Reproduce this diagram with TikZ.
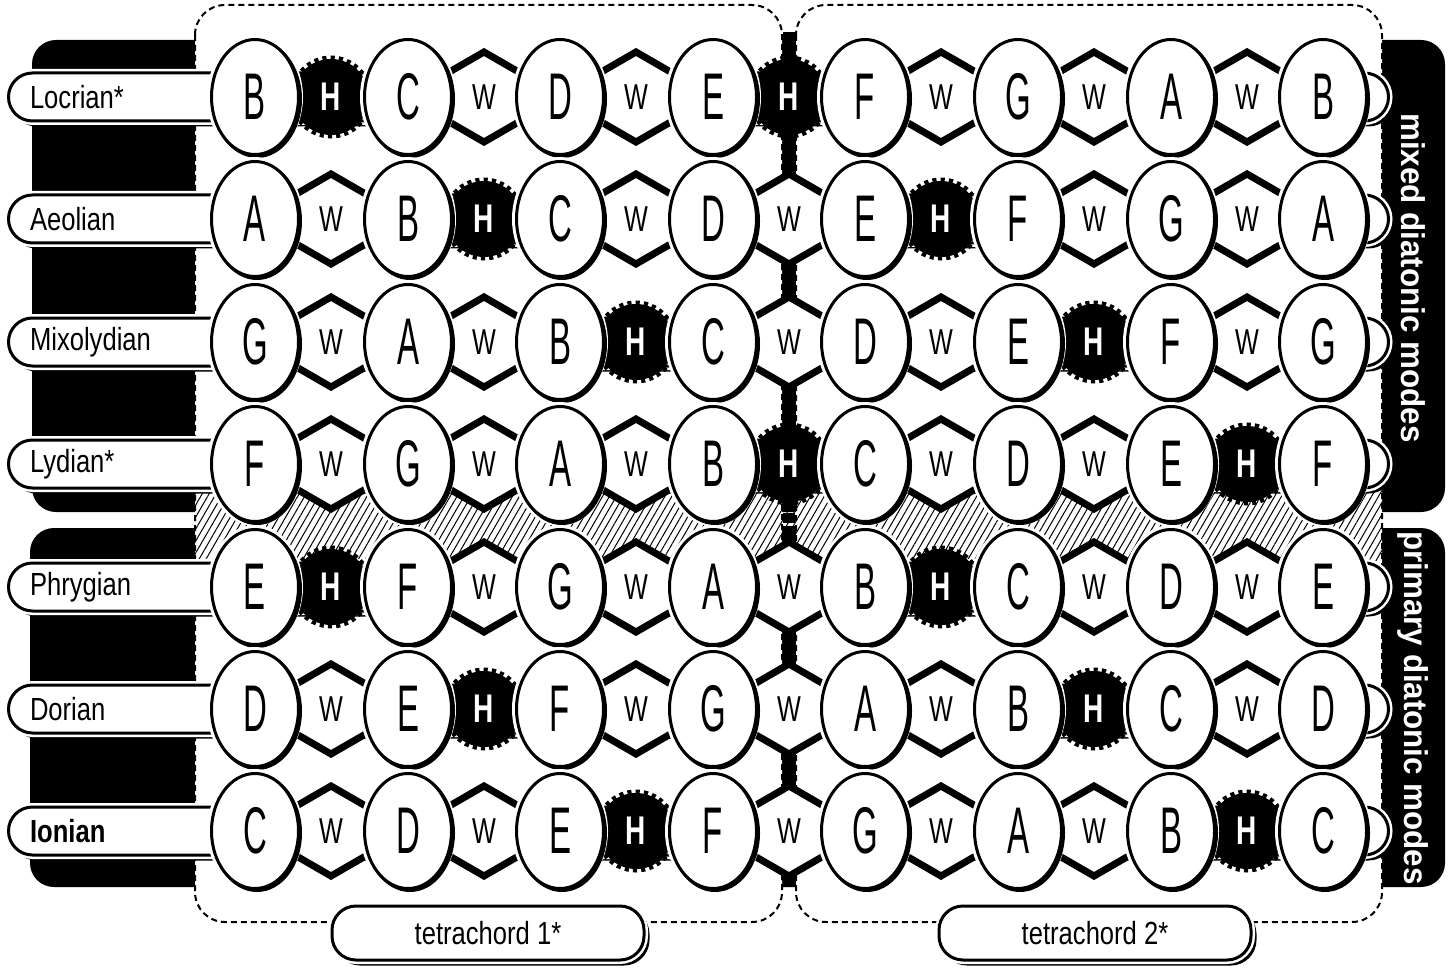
\documentclass[tikz,border=0pt]{standalone}
\usepackage{fontspec}
\setmainfont{Liberation Sans}
\newfontfamily\notefont[FakeStretch=0.5]{Liberation Sans}
\newfontfamily\stepfont[FakeStretch=0.7]{Liberation Sans}
\newfontfamily\labelfont[FakeStretch=0.8]{Liberation Sans}
\newfontfamily\sidefont[FakeStretch=0.95]{Liberation Sans}
\usetikzlibrary{shapes.geometric,patterns.meta}
\tikzset{
  block/.style={fill=black,rounded corners=24pt},
  chordbox/.style={draw,fill=white,line width=2pt,dash pattern=on 6pt off 4pt,rounded corners=30pt},
  hatch/.style={pattern={Lines[angle=60,distance=6pt,line width=1pt]}},
  spine/.style={draw,line width=12pt,dash pattern=on 10pt off 3pt},
  capsule/.style={draw,fill=white,line width=3pt,rectangle,rounded corners=24pt,
    font=\labelfont\fontsize{32}{32}\selectfont,
    preaction={draw=black,fill=black,line width=3pt,transform canvas={shift={(4pt,-4pt)}}},
    preaction={draw=white,line width=8pt}},
  mode/.style={capsule,anchor=west,minimum height=48pt,text width=1337pt,inner xsep=21.5pt,inner ysep=0pt,align=left},
  tetra/.style={capsule,minimum width=312pt,minimum height=54pt,inner sep=0pt},
  note/.style={ellipse,draw,fill=white,line width=3pt,minimum width=87pt,minimum height=115pt,inner sep=0pt,
    font=\notefont\fontsize{66}{66}\selectfont,
    preaction={draw=white,line width=9pt},
    preaction={draw=black,fill=black,line width=3pt,transform canvas={shift={(2pt,-2pt)}}}},
  whole/.style={regular polygon,regular polygon sides=6,shape border rotate=30,draw,fill=white,line width=7pt,
    minimum size=90pt,inner sep=0pt,font=\stepfont\fontsize{36}{36}\selectfont},
  half/.style={circle,draw,fill=black,line width=7pt,dash pattern=on 4pt off 4pt,minimum size=76pt,inner sep=0pt,
    text=white,font=\stepfont\bfseries\fontsize{40}{40}\selectfont},
  side/.style={text=white,rotate=-90,font=\sidefont\bfseries\fontsize{33}{33}\selectfont},
}
\begin{document}
\begin{tikzpicture}[x=1pt,y=-1pt]
  \useasboundingbox (0,0) rectangle (1450,976);

  % background
  \fill[block] (32,40) rectangle (1445,512);
  \fill[block] (30,528) rectangle (1445,887);
  \draw[chordbox] (195,5) rectangle (782,922);
  \draw[chordbox] (796,5) rectangle (1382,922);
  \fill[hatch] (195,490) rectangle (1382,560);
  \coordinate (spinetop) at (789,32);
  \coordinate (spinebot) at (789,888);
  \draw[spine] (spinetop) -- (spinebot);

  % ROW 1
  \node[mode]  (locrian) at (7,97)    {Locrian*};
  \node[half]  (s11)     at (331,97)  {H};
  \node[whole] (s12)     at (484,97)  {W};
  \node[whole] (s13)     at (636,97)  {W};
  \node[half]  (s14)     at (789,97)  {H};
  \node[whole] (s15)     at (941,97)  {W};
  \node[whole] (s16)     at (1094,97) {W};
  \node[whole] (s17)     at (1247,97) {W};
  \node[note]  (n11)     at (255,97)  {B};
  \node[note]  (n12)     at (408,97)  {C};
  \node[note]  (n13)     at (560,97)  {D};
  \node[note]  (n14)     at (713,97)  {E};
  \node[note]  (n15)     at (865,97)  {F};
  \node[note]  (n16)     at (1018,97) {G};
  \node[note]  (n17)     at (1171,97) {A};
  \node[note]  (n18)     at (1323,97) {B};

  % ROW 2
  \node[mode]  (aeolian) at (7,219)    {Aeolian};
  \node[whole] (s21)     at (331,219)  {W};
  \node[half]  (s22)     at (484,219)  {H};
  \node[whole] (s23)     at (636,219)  {W};
  \node[whole] (s24)     at (789,219)  {W};
  \node[half]  (s25)     at (941,219)  {H};
  \node[whole] (s26)     at (1094,219) {W};
  \node[whole] (s27)     at (1247,219) {W};
  \node[note]  (n21)     at (255,219)  {A};
  \node[note]  (n22)     at (408,219)  {B};
  \node[note]  (n23)     at (560,219)  {C};
  \node[note]  (n24)     at (713,219)  {D};
  \node[note]  (n25)     at (865,219)  {E};
  \node[note]  (n26)     at (1018,219) {F};
  \node[note]  (n27)     at (1171,219) {G};
  \node[note]  (n28)     at (1323,219) {A};

  % ROW 3
  \node[mode]  (mixolydian) at (7,342)    {Mixolydian};
  \node[whole] (s31)        at (331,342)  {W};
  \node[whole] (s32)        at (484,342)  {W};
  \node[half]  (s33)        at (636,342)  {H};
  \node[whole] (s34)        at (789,342)  {W};
  \node[whole] (s35)        at (941,342)  {W};
  \node[half]  (s36)        at (1094,342) {H};
  \node[whole] (s37)        at (1247,342) {W};
  \node[note]  (n31)        at (255,342)  {G};
  \node[note]  (n32)        at (408,342)  {A};
  \node[note]  (n33)        at (560,342)  {B};
  \node[note]  (n34)        at (713,342)  {C};
  \node[note]  (n35)        at (865,342)  {D};
  \node[note]  (n36)        at (1018,342) {E};
  \node[note]  (n37)        at (1171,342) {F};
  \node[note]  (n38)        at (1323,342) {G};

  % ROW 4
  \node[mode]  (lydian) at (7,464)    {Lydian*};
  \node[whole] (s41)    at (331,464)  {W};
  \node[whole] (s42)    at (484,464)  {W};
  \node[whole] (s43)    at (636,464)  {W};
  \node[half]  (s44)    at (789,464)  {H};
  \node[whole] (s45)    at (941,464)  {W};
  \node[whole] (s46)    at (1094,464) {W};
  \node[half]  (s47)    at (1247,464) {H};
  \node[note]  (n41)    at (255,464)  {F};
  \node[note]  (n42)    at (408,464)  {G};
  \node[note]  (n43)    at (560,464)  {A};
  \node[note]  (n44)    at (713,464)  {B};
  \node[note]  (n45)    at (865,464)  {C};
  \node[note]  (n46)    at (1018,464) {D};
  \node[note]  (n47)    at (1171,464) {E};
  \node[note]  (n48)    at (1323,464) {F};

  % ROW 5
  \node[mode]  (phrygian) at (7,587)    {Phrygian};
  \node[half]  (s51)      at (331,587)  {H};
  \node[whole] (s52)      at (484,587)  {W};
  \node[whole] (s53)      at (636,587)  {W};
  \node[whole] (s54)      at (789,587)  {W};
  \node[half]  (s55)      at (941,587)  {H};
  \node[whole] (s56)      at (1094,587) {W};
  \node[whole] (s57)      at (1247,587) {W};
  \node[note]  (n51)      at (255,587)  {E};
  \node[note]  (n52)      at (408,587)  {F};
  \node[note]  (n53)      at (560,587)  {G};
  \node[note]  (n54)      at (713,587)  {A};
  \node[note]  (n55)      at (865,587)  {B};
  \node[note]  (n56)      at (1018,587) {C};
  \node[note]  (n57)      at (1171,587) {D};
  \node[note]  (n58)      at (1323,587) {E};

  % ROW 6
  \node[mode]  (dorian) at (7,709)    {Dorian};
  \node[whole] (s61)    at (331,709)  {W};
  \node[half]  (s62)    at (484,709)  {H};
  \node[whole] (s63)    at (636,709)  {W};
  \node[whole] (s64)    at (789,709)  {W};
  \node[whole] (s65)    at (941,709)  {W};
  \node[half]  (s66)    at (1094,709) {H};
  \node[whole] (s67)    at (1247,709) {W};
  \node[note]  (n61)    at (255,709)  {D};
  \node[note]  (n62)    at (408,709)  {E};
  \node[note]  (n63)    at (560,709)  {F};
  \node[note]  (n64)    at (713,709)  {G};
  \node[note]  (n65)    at (865,709)  {A};
  \node[note]  (n66)    at (1018,709) {B};
  \node[note]  (n67)    at (1171,709) {C};
  \node[note]  (n68)    at (1323,709) {D};

  % ROW 7
  \node[mode]  (ionian) at (7,831)    {\bfseries Ionian};
  \node[whole] (s71)    at (331,831)  {W};
  \node[whole] (s72)    at (484,831)  {W};
  \node[half]  (s73)    at (636,831)  {H};
  \node[whole] (s74)    at (789,831)  {W};
  \node[whole] (s75)    at (941,831)  {W};
  \node[whole] (s76)    at (1094,831) {W};
  \node[half]  (s77)    at (1247,831) {H};
  \node[note]  (n71)    at (255,831)  {C};
  \node[note]  (n72)    at (408,831)  {D};
  \node[note]  (n73)    at (560,831)  {E};
  \node[note]  (n74)    at (713,831)  {F};
  \node[note]  (n75)    at (865,831)  {G};
  \node[note]  (n76)    at (1018,831) {A};
  \node[note]  (n77)    at (1171,831) {B};
  \node[note]  (n78)    at (1323,831) {C};

  % labels
  \node[side]  (mixed)   at (1413,278) {mixed diatonic modes};
  \node[side]  (primary) at (1413,708) {primary diatonic modes};
  \node[tetra] (tc1)     at (488,933)  {tetrachord 1*};
  \node[tetra] (tc2)     at (1095,933) {tetrachord 2*};

\end{tikzpicture}
\end{document}
